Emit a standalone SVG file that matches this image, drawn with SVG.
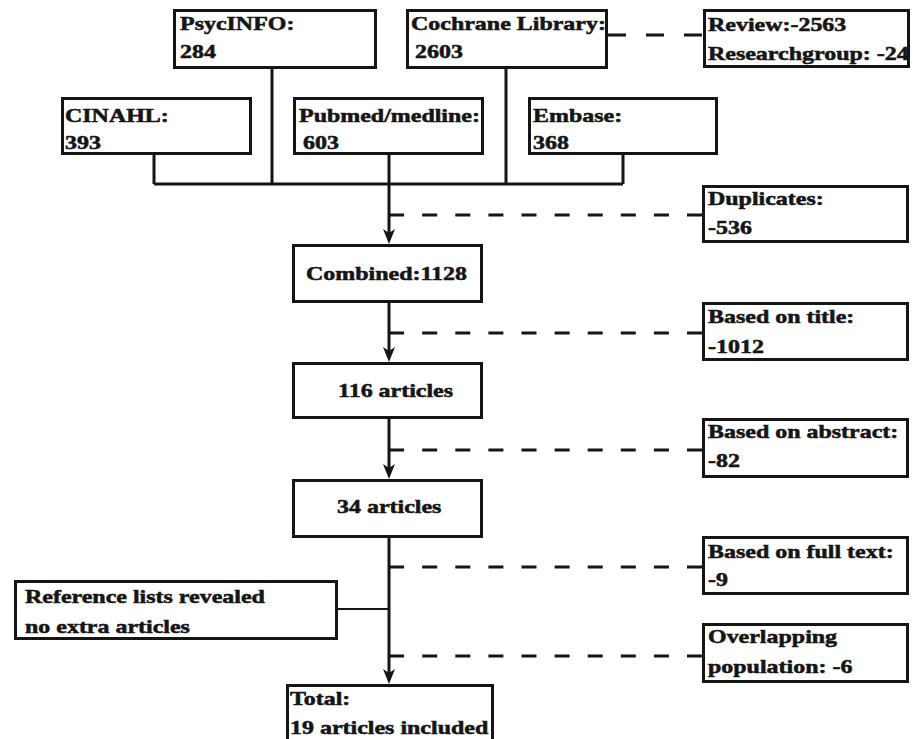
<svg xmlns="http://www.w3.org/2000/svg" xmlns:xlink="http://www.w3.org/1999/xlink" width="917" height="739" viewBox="0 0 917 739">
<defs>
<style>
.box{fill:#fff;stroke:#151515;stroke-width:3}
.ln{fill:none;stroke:#151515;stroke-width:3}
.thin{fill:none;stroke:#151515;stroke-width:2.2}
.dash{fill:none;stroke:#151515;stroke-width:3;stroke-dasharray:15 18.1}
.dash2{fill:none;stroke:#151515;stroke-width:3;stroke-dasharray:18 20}
.t{font-family:"Liberation Serif","Times New Roman",serif;font-weight:bold;font-size:19.8px;fill:#151515;stroke:#151515;stroke-width:0.55}
</style>
<path id="ah" d="M-6,-15 L0,0 L6,-15 L0,-11 Z" fill="#151515"/>
</defs>
<rect width="917" height="739" fill="#fff"/>
<g id="connectors">
<path class="ln" d="M154,155 V184 M272,69 V184 M506,69 V184 M623,155 V184 M154,184 H623"/>
<path class="ln" d="M389,155 V236"/>
<path class="ln" d="M389,303 V354"/>
<path class="ln" d="M389,419 V471"/>
<path class="ln" d="M389,538 V676"/>
<use xlink:href="#ah" x="389" y="244"/>
<use xlink:href="#ah" x="389" y="362"/>
<use xlink:href="#ah" x="389" y="479"/>
<use xlink:href="#ah" x="389" y="684"/>
<path class="thin" d="M338,609 H389"/>
<path class="dash2" d="M702,35 H608"/>
<path class="dash" d="M702,215 H389"/>
<path class="dash" d="M702,333 H389"/>
<path class="dash" d="M702,450 H389"/>
<path class="dash" d="M702,567 H389"/>
<path class="dash" d="M702,656 H389"/>
</g>
<g id="psycinfo"><rect class="box" x="174.5" y="10.5" width="201" height="57"/>
<text class="t" transform="translate(180 30) scale(1.21 1)">PsycINFO:</text>
<text class="t" transform="translate(180 58) scale(1.21 1)">284</text></g>
<g id="cochrane"><rect class="box" x="407.5" y="10.5" width="199" height="57"/>
<text class="t" transform="translate(411 30) scale(1.21 1)">Cochrane Library:</text>
<text class="t" transform="translate(415 58) scale(1.21 1)">2603</text></g>
<g id="review"><rect x="704.5" y="10.5" width="204" height="56" fill="#fff"/>
<text class="t" transform="translate(708 31) scale(1.21 1)">Review:-2563</text>
<text class="t" transform="translate(708 60) scale(1.21 1)">Researchgroup: -24</text>
<rect x="704.5" y="10.5" width="204" height="56" fill="none" stroke="#151515" stroke-width="3"/></g>
<g id="cinahl"><rect class="box" x="62.5" y="98.5" width="188" height="55"/>
<text class="t" transform="translate(65 122) scale(1.21 1)">CINAHL:</text>
<text class="t" transform="translate(65 149) scale(1.21 1)">393</text></g>
<g id="pubmed"><rect class="box" x="294.5" y="98.5" width="188" height="55"/>
<text class="t" transform="translate(299 122) scale(1.21 1)">Pubmed/medline:</text>
<text class="t" transform="translate(303 149) scale(1.21 1)">603</text></g>
<g id="embase"><rect class="box" x="529.5" y="98.5" width="187" height="55"/>
<text class="t" transform="translate(533 122) scale(1.21 1)">Embase:</text>
<text class="t" transform="translate(533 149) scale(1.21 1)">368</text></g>
<g id="duplicates"><rect class="box" x="703.5" y="186.5" width="204" height="55"/>
<text class="t" transform="translate(708 205) scale(1.21 1)">Duplicates:</text>
<text class="t" transform="translate(708 234) scale(1.21 1)">-536</text></g>
<g id="combined"><rect class="box" x="293.5" y="245.5" width="188" height="56"/>
<text class="t" transform="translate(306 280) scale(1.21 1)">Combined:1128</text></g>
<g id="title"><rect class="box" x="703.5" y="303.5" width="204" height="56"/>
<text class="t" transform="translate(708 323) scale(1.21 1)">Based on title:</text>
<text class="t" transform="translate(708 353) scale(1.21 1)">-1012</text></g>
<g id="a116"><rect class="box" x="293.5" y="363.5" width="188" height="54"/>
<text class="t" transform="translate(338 397) scale(1.21 1)">116 articles</text></g>
<g id="abstract"><rect class="box" x="703.5" y="419.5" width="204" height="57"/>
<text class="t" transform="translate(708 438) scale(1.21 1)">Based on abstract:</text>
<text class="t" transform="translate(708 467) scale(1.21 1)">-82</text></g>
<g id="a34"><rect class="box" x="293.5" y="480.5" width="188" height="56"/>
<text class="t" transform="translate(337 513) scale(1.21 1)">34 articles</text></g>
<g id="fulltext"><rect class="box" x="703.5" y="537.5" width="204" height="56"/>
<text class="t" transform="translate(708 558) scale(1.21 1)">Based on full text:</text>
<text class="t" transform="translate(708 586) scale(1.21 1)">-9</text></g>
<g id="reference"><rect class="box" x="15.5" y="581.5" width="321" height="57"/>
<text class="t" transform="translate(25 603) scale(1.21 1)">Reference lists revealed</text>
<text class="t" transform="translate(25 633) scale(1.21 1)">no extra articles</text></g>
<g id="overlapping"><rect class="box" x="703.5" y="624.5" width="204" height="57"/>
<text class="t" transform="translate(708 643) scale(1.21 1)">Overlapping</text>
<text class="t" transform="translate(708 673) scale(1.21 1)">population: -6</text></g>
<g id="total"><rect class="box" x="287.5" y="685.5" width="205" height="60"/>
<text class="t" transform="translate(290 705) scale(1.21 1)">Total:</text>
<text class="t" transform="translate(290 734) scale(1.21 1)">19 articles included</text></g>
</svg>
